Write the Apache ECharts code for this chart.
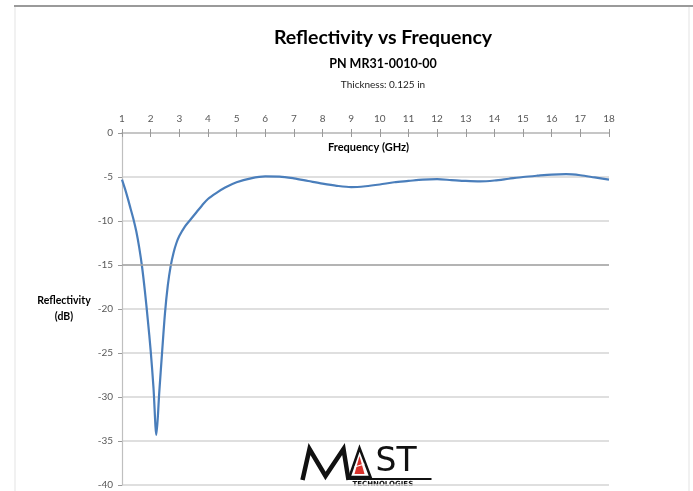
<!DOCTYPE html>
<html>
<head>
<meta charset="utf-8">
<script src="https://cdn.jsdelivr.net/npm/echarts@6/dist/echarts.min.js"></script>
<style>
  html, body { margin: 0; padding: 0; background: #fff; }
  #chart { width: 693px; height: 491px; }
</style>
</head>
<body>
<div id="chart"></div>
<script>
// Measured reflectivity (dB) of the absorber panel across 1–18 GHz
const frequencyGHz = [
  1.0, 1.1, 1.2, 1.3, 1.4, 1.5, 1.6, 1.7, 1.8, 1.9, 2.0, 2.1, 2.2, 2.3, 2.4, 2.5,
  2.6, 2.7, 2.8, 2.9, 3.0, 3.2, 3.4, 3.6, 3.8, 4.0, 4.3, 4.6, 5.0, 5.5, 6.0, 6.5,
  7.0, 7.5, 8.0, 8.5, 9.0, 9.5, 10.0, 10.5, 11.0, 11.5, 12.0, 12.5, 13.0, 13.5, 14.0,
  14.5, 15.0, 15.5, 16.0, 16.5, 17.0, 17.5, 18.0
];
const reflectivityDb = [
  -5.3, -6.3, -7.4, -8.6, -9.8, -11.2, -13.0, -15.2, -18.0, -21.2, -24.7, -29.0, -34.3, -29.5, -24.9, -20.5,
  -17.3, -15.1, -13.6, -12.5, -11.7, -10.6, -9.8, -9.0, -8.2, -7.5, -6.8, -6.2, -5.6, -5.15, -4.93, -4.95,
  -5.15, -5.45, -5.75, -6.0, -6.15, -6.05, -5.85, -5.6, -5.45, -5.3, -5.25, -5.35, -5.45, -5.5, -5.4,
  -5.2, -5.0, -4.85, -4.72, -4.68, -4.8, -5.05, -5.3
];
const xTicks = { min: 1, max: 18, step: 1 };
const yTicks = { min: -40, max: 0, step: 5 };

const chartTitle = 'Reflectivity vs Frequency';
const partNumber = 'PN MR31-0010-00';
const thicknessNote = 'Thickness: 0.125 in';
const xAxisTitle = 'Frequency (GHz)';
const yAxisTitle = 'Reflectivity\n(dB)';

const FONT = 'Lato, "Liberation Sans", sans-serif';
const chart = echarts.init(document.getElementById('chart'), null, { renderer: 'canvas' });

const points = frequencyGHz.map((f, i) => [f, reflectivityDb[i]]);

const gridBox = { left: 122, right: 84, top: 133, bottom: 6 };
const axisGray = '#bfbfbf';

chart.setOption({
  backgroundColor: '#ffffff',
  animation: false,
  title: [
    { text: chartTitle, left: 378, top: 23, textAlign: 'center',
      textStyle: { fontFamily: FONT, fontSize: 19.5, fontWeight: 'bold', color: '#000' } },
    { text: partNumber, left: 378, top: 52, textAlign: 'center',
      textStyle: { fontFamily: FONT, fontSize: 12.5, fontWeight: 'bold', color: '#000' } },
    { text: thicknessNote, left: 378, top: 75, textAlign: 'center',
      textStyle: { fontFamily: FONT, fontSize: 10, fontWeight: 'normal', color: '#222' } }
  ],
  grid: gridBox,
  xAxis: [
    {
      type: 'value', position: 'top', min: xTicks.min, max: xTicks.max, interval: xTicks.step,
      axisLine: { show: true, onZero: false, lineStyle: { color: axisGray, width: 1.5 } },
      axisTick: { show: true, inside: false, length: 4, lineStyle: { color: '#999' } },
      axisLabel: { fontFamily: FONT, fontSize: 10, color: '#595959', margin: 9 },
      splitLine: { show: false }
    },
    {
      type: 'value', position: 'top', min: xTicks.min, max: xTicks.max, interval: xTicks.step,
      axisLine: { show: false },
      axisTick: { show: true, inside: true, length: 4, lineStyle: { color: '#999' } },
      axisLabel: { show: false },
      splitLine: { show: false }
    }
  ],
  yAxis: {
    type: 'value', min: yTicks.min, max: yTicks.max, interval: yTicks.step,
    name: yAxisTitle, nameLocation: 'middle', nameGap: 58, nameRotate: 0,
    nameTextStyle: { fontFamily: FONT, fontSize: 10.5, fontWeight: 'bold', color: '#000', lineHeight: 16, align: 'center', padding: [8, 0, 0, 0] },
    axisLine: { show: true, lineStyle: { color: axisGray, width: 1.2 } },
    axisTick: { show: true, length: 4, lineStyle: { color: '#999' } },
    axisLabel: { fontFamily: FONT, fontSize: 10, color: '#595959', margin: 9 },
    splitLine: { show: true, lineStyle: { color: '#d4d4d4', width: 1.5 } }
  },
  series: [{
    type: 'line',
    data: points,
    xAxisIndex: 0,
    showSymbol: false,
    smooth: 0.3,
    lineStyle: { color: '#4a7ebb', width: 2.2 },
    markLine: {
      silent: true, symbol: 'none', label: { show: false },
      lineStyle: { color: '#a6a6a6', width: 1.5, type: 'solid' },
      data: [{ yAxis: -15 }]
    },
    z: 3
  }],
  graphic: [
    // page frame
    { type: 'line', shape: { x1: 14, y1: 6, x2: 693, y2: 6 }, style: { stroke: '#9a9a9a', lineWidth: 2 } },
    { type: 'line', shape: { x1: 15, y1: 7, x2: 15, y2: 491 }, style: { stroke: '#ececec', lineWidth: 1.5 } },
    { type: 'line', shape: { x1: 689, y1: 7, x2: 689, y2: 491 }, style: { stroke: '#ececec', lineWidth: 1.5 } },
    // horizontal axis title, sitting inside the plot under the top axis
    { type: 'text', left: 328, top: 142, z: 5,
      style: { text: xAxisTitle, fontFamily: FONT, fontSize: 11, fontWeight: 'bold', fill: '#000' } },
    // company logo
    { type: 'group', left: 300, top: 446, z: 10, children: [
      { type: 'polyline', shape: { points: [[3, 34], [10, 3], [26, 30], [44, 3], [49, 34]] },
        style: { stroke: '#111', lineWidth: 4.5, fill: null, lineJoin: 'miter' } },
      { type: 'polygon', shape: { points: [[50, 31], [60, 2], [71, 31]] },
        style: { fill: '#fff', stroke: '#111', lineWidth: 2.5 } },
      { type: 'polygon', shape: { points: [[55, 28], [60, 10], [65, 28]] },
        style: { fill: '#d9322b' } },
      { type: 'line', shape: { x1: 55, y1: 21, x2: 65, y2: 18 }, style: { stroke: '#fff', lineWidth: 1.2 } },
      { type: 'text', style: { x: 76, y: 0, text: 'ST', fontFamily: '"DejaVu Sans", sans-serif',
        fontSize: 33, fontWeight: 'normal', fill: '#111' } },
      { type: 'rect', shape: { x: 50, y: 32, width: 82, height: 2 }, style: { fill: '#111' } },
      { type: 'text', style: { x: 53, y: 35, text: 'TECHNOLOGIES', fontFamily: '"DejaVu Sans", sans-serif',
        fontSize: 7, fontWeight: 'bold', fill: '#111' } }
    ] }
  ]
});
</script>
</body>
</html>
